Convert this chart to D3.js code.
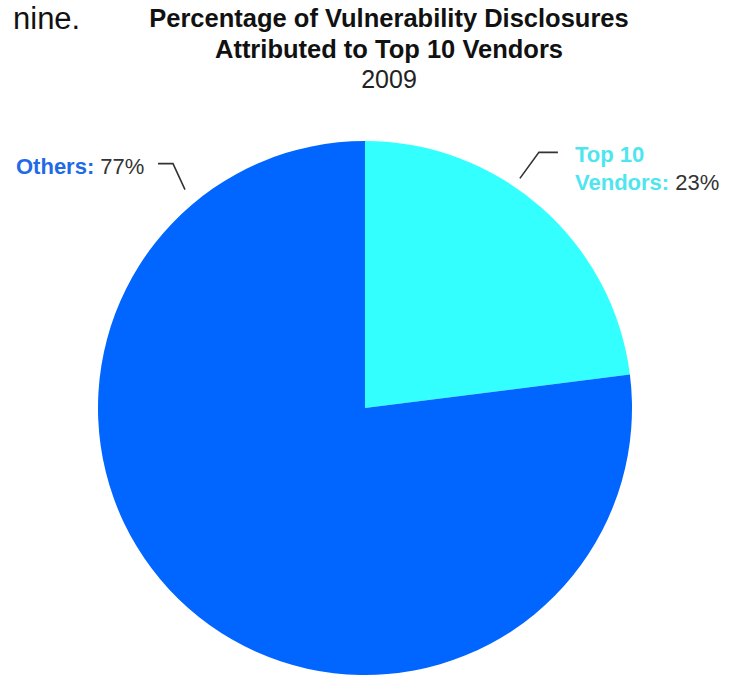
<!DOCTYPE html>
<html>
<head>
<meta charset="utf-8">
<script src="https://cdn.jsdelivr.net/npm/d3@7"></script>
<style>
  html, body { margin: 0; padding: 0; background: #fff; }
  svg { display: block; }
</style>
</head>
<body>
<svg id="chart" width="736" height="677"></svg>
<script>
// ---- data ----
const categories = ["Top 10 Vendors", "Others"];
const labelLines = [["Top 10", "Vendors:"], ["Others:"]];
const values = [23, 77];
const valueLabels = ["23%", "77%"];
const titleLines = ["Percentage of Vulnerability Disclosures", "Attributed to Top 10 Vendors"];
const subtitle = "2009";

// ---- layout / style ----
const W = 736, H = 677;
const cx = 365, cy = 408, R = 267;
const colors = ["#33ffff", "#0066ff"];
const labelColors = ["#4de6ef", "#1f6ae6"];
const FONT = "'Liberation Sans', Arial, Helvetica, sans-serif";

const svg = d3.select("#chart");

// fragment of surrounding text
svg.append("text")
  .attr("x", 13).attr("y", 29)
  .attr("font-family", FONT).attr("font-size", 31)
  .attr("fill", "#111")
  .text("nine.");

// title
const titleX = 389;
titleLines.forEach((t, i) => {
  svg.append("text")
    .attr("x", titleX).attr("y", 27 + i * 30.5)
    .attr("text-anchor", "middle")
    .attr("font-family", FONT).attr("font-weight", "bold")
    .attr("font-size", 25.5).attr("fill", "#111")
    .text(t);
});
svg.append("text")
  .attr("x", titleX).attr("y", 88)
  .attr("text-anchor", "middle")
  .attr("font-family", FONT).attr("font-size", 25)
  .attr("fill", "#222")
  .text(subtitle);

// pie
const pie = d3.pie().sort(null).value(d => d)(values);
const arc = d3.arc().innerRadius(0).outerRadius(R);
const g = svg.append("g").attr("transform", `translate(${cx},${cy})`);
g.selectAll("path").data(pie).join("path")
  .attr("d", arc)
  .attr("fill", (d, i) => colors[i]);

// labels with leader lines
const layout = [
  { angleDeg: 34.0, rOff: 10, dx: 19, dy: -26, hLen: 19, tx: 575, ty: 162 },
  { angleDeg: -39.5, rOff: 16, dx: -12, dy: -26, hLen: -15, tx: 16, ty: 174 }
];
const polar = (deg, r) => {
  const a = deg * Math.PI / 180;
  return [cx + r * Math.sin(a), cy - r * Math.cos(a)];
};
categories.forEach((c, i) => {
  const L = layout[i];
  const p0 = polar(L.angleDeg, R + L.rOff);
  const p1 = [p0[0] + L.dx, p0[1] + L.dy];
  const p2 = [p1[0] + L.hLen, p1[1]];
  svg.append("path")
    .attr("d", d3.line()([p0, p1, p2]))
    .attr("fill", "none").attr("stroke", "#333").attr("stroke-width", 1.6);

  const t = svg.append("text")
    .attr("x", L.tx).attr("y", L.ty)
    .attr("font-family", FONT).attr("font-size", 22);
  const lines = labelLines[i];
  lines.forEach((ln, j) => {
    t.append("tspan")
      .attr("x", L.tx).attr("dy", j === 0 ? 0 : 28)
      .attr("font-weight", "bold").attr("fill", labelColors[i])
      .text(ln);
    if (j === lines.length - 1) {
      t.append("tspan").attr("fill", "#333").attr("font-weight", "normal")
        .text(" " + valueLabels[i]);
    }
  });
});
</script>
</body>
</html>
